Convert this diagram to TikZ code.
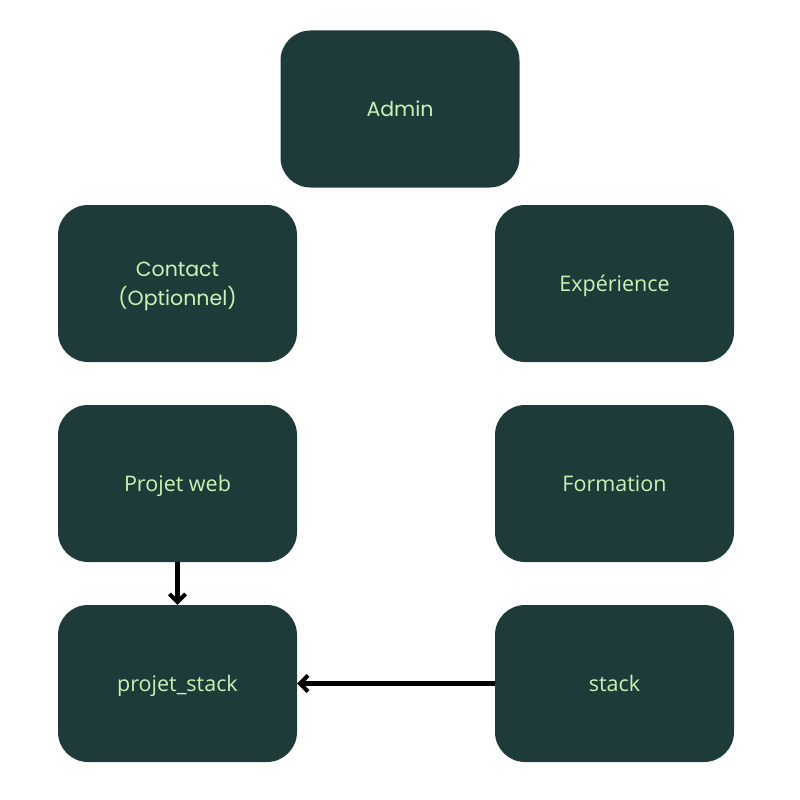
\documentclass[tikz,border=0pt]{standalone}
\usepackage{fontspec}
\setmainfont{Open Sans}
\newfontfamily\geofont{Poppins}
\usetikzlibrary{arrows.meta}
\definecolor{boxfill}{HTML}{1E3B3A}
\definecolor{boxtext}{HTML}{CDF2B5}
\tikzset{
  card/.style={fill=boxfill, draw=none, rounded corners=30pt, minimum width=239pt, minimum height=157pt, text=boxtext, font=\fontsize{21.5}{27}\selectfont, align=center, inner sep=0pt, text depth=0pt},
  geo/.style={font=\geofont\fontsize{20.5}{29}\selectfont},
  link/.style={line width=4.5pt, -{Straight Barb[length=8pt,width=16pt,line width=4pt]}}
}
\begin{document}
\begin{tikzpicture}[x=1pt,y=-1pt]
\useasboundingbox (0,0) rectangle (800,800);
\node[card,geo] (admin) at (400,109) {Admin};
\node[card,geo] (contact) at (177.5,283.5) {Contact\\(Optionnel)};
\node[card] (exp) at (614.5,283.5) {Expérience};
\node[card] (web) at (177.5,483.5) {Projet web};
\node[card] (form) at (614.5,483.5) {Formation};
\node[card] (pstack) at (177.5,683.5) {projet\_stack};
\node[card] (stack) at (614.5,683.5) {stack};
\draw[link] (web.south) -- (pstack.north);
\draw[link] (stack.west) -- (pstack.east);
\end{tikzpicture}
\end{document}
